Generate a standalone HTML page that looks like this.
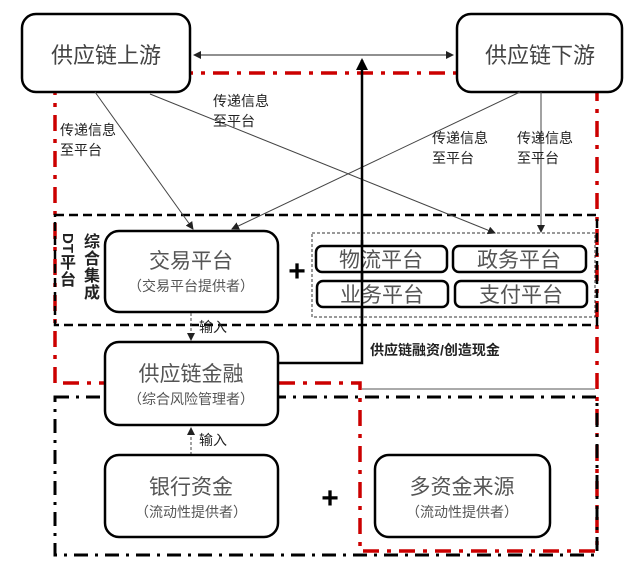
<!DOCTYPE html>
<html><head><meta charset="utf-8"><style>
body{margin:0;background:#fff;}
svg text{font-family:"Liberation Sans","Noto Sans CJK SC",sans-serif;}
</style></head><body>
<svg width="640" height="573" viewBox="0 0 640 573" xmlns="http://www.w3.org/2000/svg">
<defs>
<marker id="a" markerWidth="8" markerHeight="8" refX="7" refY="4" orient="auto" markerUnits="userSpaceOnUse"><path d="M0,0 L8,4 L0,8 z" fill="#222"/></marker>
<marker id="b" markerWidth="12" markerHeight="12" refX="10" refY="6" orient="auto" markerUnits="userSpaceOnUse"><path d="M0,0 L12,6 L0,12 z" fill="#000"/></marker>
</defs>
<!-- red dash-dot region -->
<path d="M55,383 L55,73 L597,73 L597,551 L360,551 L360,383 Z" fill="none" stroke="#c00" stroke-width="3.5" stroke-dasharray="16,8,4,8"/>
<line x1="362" y1="389" x2="595" y2="389" stroke="#aaa" stroke-width="2"/>
<!-- black dash-dot lower -->
<rect x="55" y="397" width="542" height="158" fill="none" stroke="#000" stroke-width="3" stroke-dasharray="14,7,3,7"/>
<!-- DT dashed -->
<rect x="55" y="215" width="542" height="110" fill="none" stroke="#000" stroke-width="2.5" stroke-dasharray="9,5"/>
<rect x="312" y="233" width="283" height="84" fill="none" stroke="#333" stroke-width="1" stroke-dasharray="3,2"/>

<!-- top boxes -->
<rect x="22" y="14" width="168" height="78" rx="14" fill="#fff" stroke="#000" stroke-width="2.5"/>
<text x="106" y="63" font-size="22" text-anchor="middle" fill="#444">供应链上游</text>
<rect x="457" y="14" width="165" height="78" rx="14" fill="#fff" stroke="#000" stroke-width="2.5"/>
<text x="540" y="63" font-size="22" text-anchor="middle" fill="#444">供应链下游</text>
<line x1="194" y1="55" x2="453" y2="55" stroke="#222" stroke-width="1" marker-end="url(#a)"/>
<line x1="453" y1="55" x2="194" y2="55" stroke="#222" stroke-width="1" marker-end="url(#a)"/>

<!-- connectors -->
<line x1="95" y1="92" x2="193" y2="229" stroke="#444" stroke-width="1" marker-end="url(#a)"/>
<line x1="150" y1="94" x2="495" y2="233" stroke="#444" stroke-width="1" marker-end="url(#a)"/>
<line x1="520" y1="92" x2="232" y2="229" stroke="#444" stroke-width="1" marker-end="url(#a)"/>
<line x1="541" y1="92" x2="541" y2="232" stroke="#444" stroke-width="1" marker-end="url(#a)"/>

<g font-size="14" fill="#222">
<text x="60" y="135">传递信息</text><text x="60" y="155">至平台</text>
<text x="213" y="106">传递信息</text><text x="213" y="126">至平台</text>
<text x="432" y="143">传递信息</text><text x="432" y="163">至平台</text>
<text x="517" y="143">传递信息</text><text x="517" y="163">至平台</text>
</g>

<!-- thick line -->
<polyline points="278,363 362,363 362,60" fill="none" stroke="#000" stroke-width="2.5" marker-end="url(#b)"/>

<!-- DT labels -->
<g font-size="16" font-weight="bold" fill="#222" text-anchor="middle">
<text x="68" y="248" transform="rotate(90 68 243)" font-size="15">DT</text>
<text x="68" y="268">平</text><text x="68" y="285">台</text>
<text x="92" y="247">综</text><text x="92" y="264">合</text><text x="92" y="281">集</text><text x="92" y="298">成</text>
</g>

<!-- 交易平台 -->
<rect x="105" y="231" width="173" height="81" rx="14" fill="#fff" stroke="#000" stroke-width="2.5"/>
<text x="191" y="268" font-size="21" text-anchor="middle" fill="#555">交易平台</text>
<text x="191" y="291" font-size="14" text-anchor="middle" fill="#555">（交易平台提供者）</text>
<text x="297" y="281" font-size="30" font-weight="bold" text-anchor="middle">+</text>

<g fill="#fff" stroke="#000" stroke-width="2.5">
<rect x="316" y="246" width="131" height="26" rx="6"/>
<rect x="453" y="246" width="133" height="26" rx="6"/>
<rect x="317" y="281" width="131" height="26" rx="6"/>
<rect x="455" y="281" width="132" height="26" rx="6"/>
</g>
<g font-size="21" fill="#555" text-anchor="middle">
<text x="381" y="267">物流平台</text><text x="519" y="267">政务平台</text>
<text x="382" y="302">业务平台</text><text x="521" y="302">支付平台</text>
</g>
<line x1="362" y1="240" x2="362" y2="320" stroke="#000" stroke-width="2.5"/>

<!-- 输入 1 -->
<line x1="191" y1="313" x2="191" y2="340" stroke="#444" stroke-width="1" stroke-dasharray="3,2" marker-end="url(#a)"/>
<text x="199" y="332" font-size="14" fill="#222">输入</text>

<!-- 供应链金融 -->
<rect x="105" y="342" width="173" height="83" rx="14" fill="#fff" stroke="#000" stroke-width="2.5"/>
<text x="191" y="381" font-size="21" text-anchor="middle" fill="#555">供应链金融</text>
<text x="191" y="404" font-size="14" text-anchor="middle" fill="#555">（综合风险管理者）</text>
<text x="370" y="355" font-size="14" font-weight="bold" fill="#222">供应链融资/创造现金</text>

<!-- 输入 2 -->
<line x1="191" y1="455" x2="191" y2="428" stroke="#444" stroke-width="1" stroke-dasharray="3,2" marker-end="url(#a)"/>
<text x="199" y="445" font-size="14" fill="#222">输入</text>

<rect x="105" y="455" width="173" height="82" rx="14" fill="#fff" stroke="#000" stroke-width="2.5"/>
<text x="191" y="494" font-size="21" text-anchor="middle" fill="#555">银行资金</text>
<text x="191" y="517" font-size="14" text-anchor="middle" fill="#555">（流动性提供者）</text>
<text x="330" y="508" font-size="30" font-weight="bold" text-anchor="middle">+</text>
<rect x="375" y="455" width="175" height="82" rx="14" fill="#fff" stroke="#000" stroke-width="2.5"/>
<text x="462" y="494" font-size="21" text-anchor="middle" fill="#555">多资金来源</text>
<text x="462" y="517" font-size="14" text-anchor="middle" fill="#555">（流动性提供者）</text>
</svg>
</body></html>
